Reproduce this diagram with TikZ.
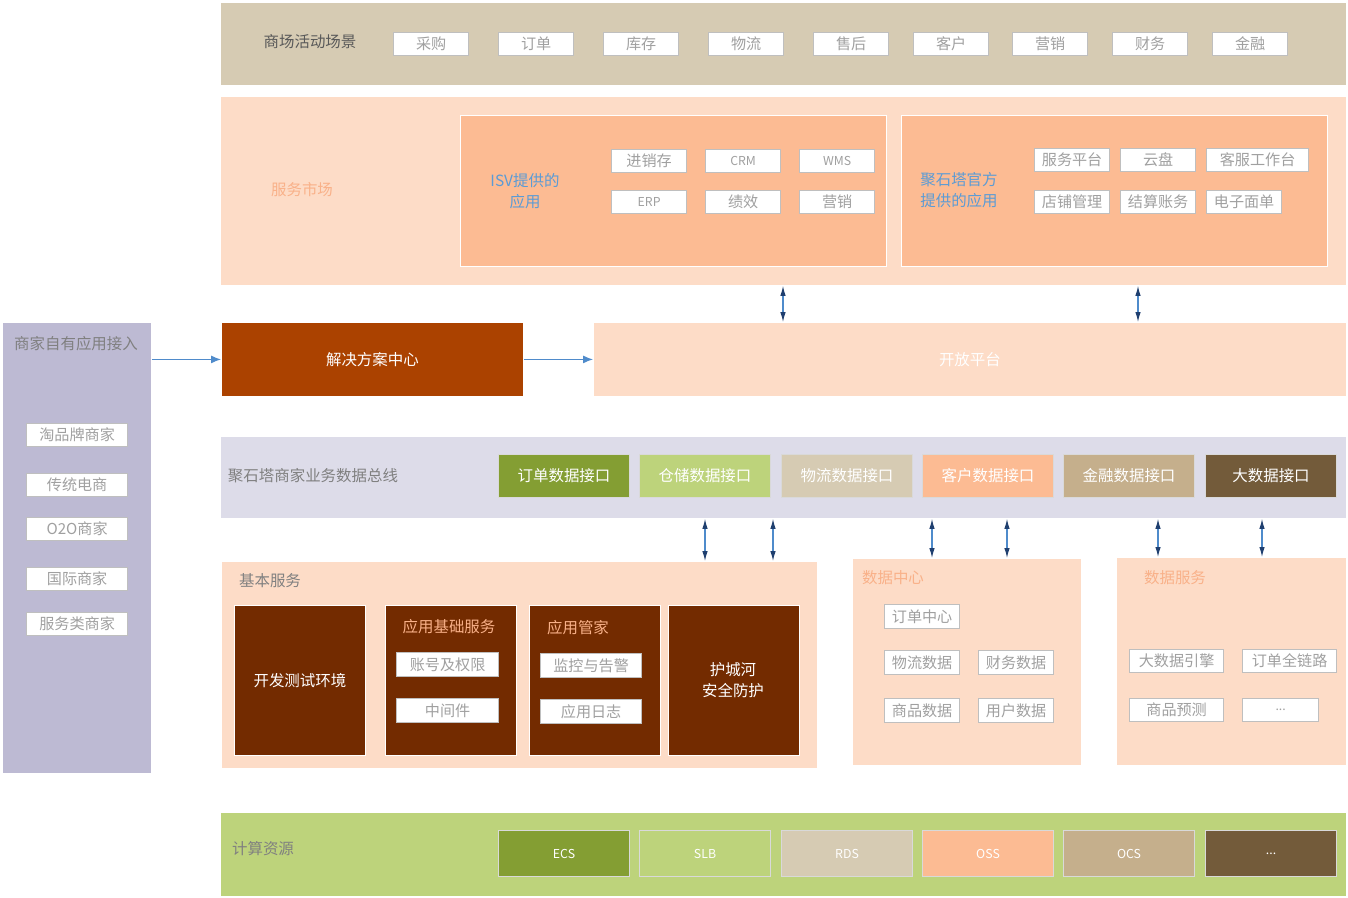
\documentclass[tikz,border=0pt]{standalone}
\usepackage{fontspec}
\newfontfamily\cjk{Noto Sans CJK SC}
\usetikzlibrary{arrows.meta}

\definecolor{sand}{HTML}{D6CBB3}
\definecolor{peachl}{HTML}{FDDCC7}
\definecolor{peachm}{HTML}{FCBB93}
\definecolor{peacht}{HTML}{F9B189}
\definecolor{lilac}{HTML}{BDBAD3}
\definecolor{lilacl}{HTML}{DDDCE9}
\definecolor{rust}{HTML}{AB4200}
\definecolor{brown}{HTML}{732B00}
\definecolor{olive}{HTML}{849E33}
\definecolor{lime}{HTML}{BDD37B}
\definecolor{tan}{HTML}{C5AF8C}
\definecolor{umber}{HTML}{735B3A}
\definecolor{isvblue}{HTML}{5B9BD5}
\definecolor{linkblue}{HTML}{4F8BCB}
\definecolor{tipblue}{HTML}{1F3F6F}
\definecolor{labelgray}{HTML}{6F6F6F}
\definecolor{taggray}{HTML}{A0A0A0}

\newdimen\pxu \pxu=0.02cm
\newcommand{\fs}[1]{\fontsize{#1}{11.8}\selectfont}

\tikzset{
  panel/.style={fill=#1, draw=white, line width=0.5pt, anchor=north west, inner sep=0pt},
  tag/.style={fill=white, draw=black!25, line width=0.7pt, text=taggray, anchor=north west,
    inner sep=0pt, minimum width=75\pxu, minimum height=23\pxu, font=\cjk\fs{8.6}},
  iface/.style={fill=#1, draw=white!85!black, line width=0.6pt, text=white, anchor=north west,
    inner sep=0pt, minimum width=131\pxu, minimum height=43\pxu, font=\cjk\fs{8.8}},
  res/.style={iface=#1, minimum height=46\pxu, font=\cjk\fs{7}},
  lbl/.style={text=labelgray, inner sep=0pt, font=\cjk\fs{8.8}},
  ttl/.style={text=peacht, inner sep=0pt, font=\cjk\fs{8.8}},
  flow/.style={linkblue, line width=0.6pt, -{Latex[length=2mm,width=1.6mm]}},
  dbl/.style={linkblue, line width=0.6pt, {Latex[length=2mm,width=1.1mm,color=tipblue]}-{Latex[length=2mm,width=1.1mm,color=tipblue]}}
}

\begin{document}
\begin{tikzpicture}[x=\pxu, y=-\pxu, font=\cjk]
\useasboundingbox[fill=white] (0,0) rectangle (1348,898);

\node[panel=sand, minimum width=1126\pxu, minimum height=83\pxu] (scene) at (220,2) {};
\node[lbl, text=black!65] (scenelbl) at (310,42) {商场活动场景};
\foreach \x/\t [count=\i] in {393/采购,498/订单,603/库存,708/物流,813/售后,913/客户,1012/营销,1112/财务,1212/金融}
  \node[tag] (scene\i) at (\x,32) {\t};

\node[panel=peachl, minimum width=1126\pxu, minimum height=189\pxu] (market) at (220,96) {};
\node[ttl] (marketlbl) at (302,190) {服务市场};
\node[panel=peachm, minimum width=426\pxu, minimum height=151\pxu, line width=0.8pt] (isv) at (460,115) {};
\node[text=isvblue, align=center, inner sep=0pt, font=\cjk\fs{8.8}] (isvlbl) at (525,191) {ISV提供的\\应用};
\node[tag] (isv1) at (611,149) {进销存};
\node[tag, font=\cjk\fs{7}] (isv2) at (705,149) {CRM};
\node[tag, font=\cjk\fs{7}] (isv3) at (799,149) {WMS};
\node[tag, font=\cjk\fs{7}] (isv4) at (611,190) {ERP};
\node[tag] (isv5) at (705,190) {绩效};
\node[tag] (isv6) at (799,190) {营销};

\node[panel=peachm, minimum width=426\pxu, minimum height=151\pxu, line width=0.8pt] (official) at (901,115) {};
\node[text=isvblue, align=left, inner sep=0pt, font=\cjk\fs{8.8}] (officiallbl) at (959,190) {聚石塔官方\\提供的应用};
\node[tag] (off1) at (1034,148) {服务平台};
\node[tag] (off2) at (1120,148) {云盘};
\node[tag, minimum width=102\pxu] (off3) at (1206,148) {客服工作台};
\node[tag] (off4) at (1034,190) {店铺管理};
\node[tag] (off5) at (1120,190) {结算账务};
\node[tag] (off6) at (1206,190) {电子面单};

\node[panel=lilac, minimum width=149\pxu, minimum height=451\pxu] (merchant) at (2,322) {};
\node[lbl, text=black!50] (merchantlbl) at (76,344) {商家自有应用接入};
\foreach \y/\t [count=\i] in {423/淘品牌商家,473/传统电商,517/O2O商家,567/国际商家,612/服务类商家}
  \node[tag, minimum width=101\pxu] (merchant\i) at (26,\y) {\t};

\node[panel=rust, minimum width=302\pxu, minimum height=74\pxu] (solution) at (221,322) {};
\node[text=white, inner sep=0pt, font=\cjk\fs{8.8}] (solutionlbl) at (solution.center) {解决方案中心};
\node[panel=peachl, minimum width=753\pxu, minimum height=74\pxu] (open) at (593,322) {};
\node[text=white, inner sep=0pt, font=\cjk\fs{8.8}] (openlbl) at (open.center) {开放平台};

\draw[flow] (merchant.east |- solution.west) -- (solution.west);
\draw[flow] (solution.east) -- (open.west);
\draw[dbl] (market.south -| 783,0) -- (open.north -| 783,0);
\draw[dbl] (market.south -| 1138,0) -- (open.north -| 1138,0);

\node[panel=lilacl, minimum width=1126\pxu, minimum height=82\pxu] (bus) at (220,436) {};
\node[lbl, text=black!50] (buslbl) at (313,476) {聚石塔商家业务数据总线};
\node[iface=olive] (if1) at (498,454) {订单数据接口};
\node[iface=lime] (if2) at (639,454) {仓储数据接口};
\node[iface=sand] (if3) at (781,454) {物流数据接口};
\node[iface=peachm] (if4) at (922,454) {客户数据接口};
\node[iface=tan] (if5) at (1063,454) {金融数据接口};
\node[iface=umber] (if6) at (1205,454) {大数据接口};

\node[panel=peachl, minimum width=596\pxu, minimum height=207\pxu] (basic) at (221,561) {};
\node[lbl, text=black!50] (basiclbl) at (270,581) {基本服务};
\node[panel=brown, minimum width=131\pxu, minimum height=150\pxu] (devenv) at (234,605) {};
\node[text=white, inner sep=0pt, font=\cjk\fs{8.8}] (devenvlbl) at (devenv.center) {开发测试环境};
\node[panel=brown, minimum width=131\pxu, minimum height=150\pxu] (appbase) at (385,605) {};
\node[ttl] (appbaselbl) at (449,627) {应用基础服务};
\node[tag, minimum width=102\pxu, minimum height=24\pxu] (appbase1) at (396,652) {账号及权限};
\node[tag, minimum width=102\pxu, minimum height=24\pxu] (appbase2) at (396,698) {中间件};
\node[panel=brown, minimum width=131\pxu, minimum height=150\pxu] (keeper) at (529,605) {};
\node[ttl] (keeperlbl) at (578,628) {应用管家};
\node[tag, minimum width=101\pxu, minimum height=24\pxu] (keeper1) at (540,653) {监控与告警};
\node[tag, minimum width=101\pxu, minimum height=24\pxu] (keeper2) at (540,699) {应用日志};
\node[panel=brown, minimum width=131\pxu, minimum height=150\pxu] (moat) at (668,605) {};
\node[text=white, align=center, inner sep=0pt, font=\cjk\fs{8.8}] (moatlbl) at (733,680) {护城河\\安全防护};

\node[panel=peachl, minimum width=229\pxu, minimum height=207\pxu] (datacenter) at (852,558) {};
\node[ttl] (datacenterlbl) at (893,578) {数据中心};
\node[tag, minimum height=24\pxu] (dc1) at (884,604) {订单中心};
\node[tag, minimum height=24\pxu] (dc2) at (884,650) {物流数据};
\node[tag, minimum height=24\pxu] (dc3) at (978,650) {财务数据};
\node[tag, minimum height=24\pxu] (dc4) at (884,698) {商品数据};
\node[tag, minimum height=24\pxu] (dc5) at (978,698) {用户数据};

\node[panel=peachl, minimum width=230\pxu, minimum height=208\pxu] (dataservice) at (1116,557) {};
\node[ttl] (dataservicelbl) at (1175,578) {数据服务};
\node[tag, minimum width=94\pxu] (ds1) at (1129,649) {大数据引擎};
\node[tag, minimum width=94\pxu] (ds2) at (1242,649) {订单全链路};
\node[tag, minimum width=94\pxu] (ds3) at (1129,698) {商品预测};
\node[tag, minimum width=76\pxu, font=\cjk\fs{7}] (ds4) at (1242,698) {...};

\draw[dbl] (bus.south -| 705,0) -- (basic.north -| 705,0);
\draw[dbl] (bus.south -| 773,0) -- (basic.north -| 773,0);
\draw[dbl] (bus.south -| 932,0) -- (datacenter.north -| 932,0);
\draw[dbl] (bus.south -| 1007,0) -- (datacenter.north -| 1007,0);
\draw[dbl] (bus.south -| 1158,0) -- (dataservice.north -| 1158,0);
\draw[dbl] (bus.south -| 1262,0) -- (dataservice.north -| 1262,0);

\node[panel=lime, minimum width=1126\pxu, minimum height=84\pxu] (compute) at (220,812) {};
\node[lbl, text=black!50] (computelbl) at (263,849) {计算资源};
\node[res=olive] (res1) at (498,830) {ECS};
\node[res=lime] (res2) at (639,830) {SLB};
\node[res=sand] (res3) at (781,830) {RDS};
\node[res=peachm] (res4) at (922,830) {OSS};
\node[res=tan] (res5) at (1063,830) {OCS};
\node[res=umber] (res6) at (1205,830) {...};
\end{tikzpicture}
\end{document}
